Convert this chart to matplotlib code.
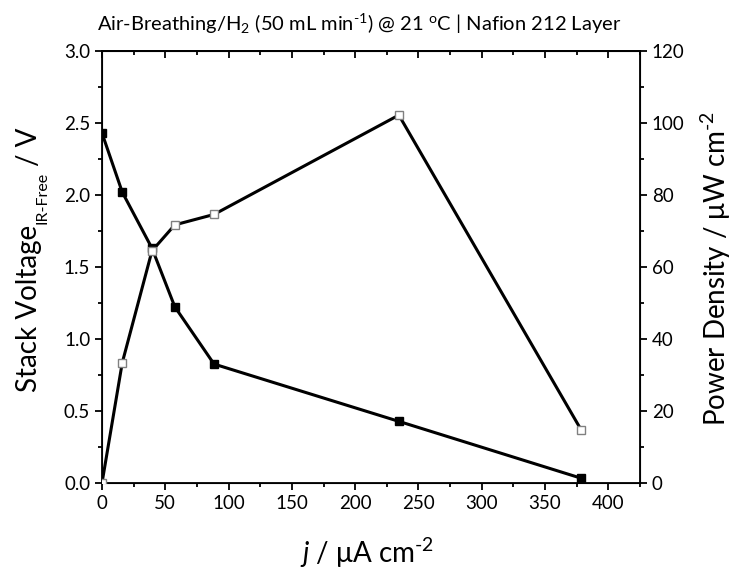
import matplotlib
matplotlib.use("Agg")
import matplotlib.pyplot as plt
from matplotlib.ticker import MultipleLocator

plt.rcParams["font.family"] = ["Lato", "DejaVu Sans"]
plt.rcParams["mathtext.fontset"] = "custom"
plt.rcParams["mathtext.rm"] = "Lato"
plt.rcParams["mathtext.it"] = "Lato:italic"

# current density (uA cm-2)
j = [0, 16, 39.5, 57.5, 88.5, 234.5, 378.6]
# stack voltage (V)
voltage = [2.43, 2.02, 1.63, 1.224, 0.826, 0.428, 0.033]
# power density (uW cm-2)
power = [0.0, 33.4, 64.5, 71.7, 74.6, 102.2, 14.7]

W, H = 733, 572
fig = plt.figure(figsize=(W / 100, H / 100), dpi=100)
ax = fig.add_axes([102 / W, 1 - 483 / H, 538 / W, 432 / H])

ax.plot(j, voltage, color="black", lw=2.2, marker="s", ms=6,
        mfc="black", mec="black", zorder=3)
ax.set_xlim(0, 425)
ax.set_ylim(0, 3.0)
ax.xaxis.set_major_locator(MultipleLocator(50))
ax.xaxis.set_minor_locator(MultipleLocator(25))
ax.yaxis.set_major_locator(MultipleLocator(0.5))
ax.yaxis.set_minor_locator(MultipleLocator(0.25))
ax.yaxis.set_major_formatter(plt.FormatStrFormatter("%.1f"))
ax.tick_params(axis="both", which="major", direction="out", length=5, width=1.3,
               labelsize=13.5)
ax.tick_params(axis="both", which="minor", direction="out", length=3, width=1.3)
for s in ax.spines.values():
    s.set_linewidth(1.3)

# top axis: ticks only, pointing inward
top = ax.secondary_xaxis("top")
top.xaxis.set_major_locator(MultipleLocator(50))
top.xaxis.set_minor_locator(MultipleLocator(25))
top.tick_params(which="major", direction="in", length=5, width=1.3, labeltop=False)
top.tick_params(which="minor", direction="in", length=3, width=1.3)
top.spines["top"].set_linewidth(1.3)

ax.set_xlabel("$j$ / μA cm$^{\\text{-}2}$", fontsize=20)
ax.xaxis.label.set_va("baseline")
ax.xaxis.set_label_coords((367 - 102) / 538, (483 - 563) / 432)

ax2 = ax.twinx()
ax2.plot(j, power, color="black", lw=2.2, marker="s", ms=6,
         mfc="white", mec="#808080", mew=1.0, zorder=3)
ax2.set_ylim(0, 120)
ax2.yaxis.set_major_locator(MultipleLocator(20))
ax2.yaxis.set_minor_locator(MultipleLocator(10))
ax2.tick_params(axis="y", which="major", direction="out", length=5, width=1.3,
                labelsize=13.5)
ax2.tick_params(axis="y", which="minor", direction="out", length=3, width=1.3)
ax2.set_ylabel("Power Density / μW cm$^{\\text{-}2}$", fontsize=20)
ax2.yaxis.set_label_coords((699 - 102) / 538, (483 - 268) / 432)

# left label built from pieces so the subscript is small like the original
renderer = fig.canvas.get_renderer()
base_x = 37 / W
sub_x = 46 / W
y0 = 392
t1 = fig.text(base_x, 1 - y0 / H, "Stack Voltage", fontsize=20, rotation=90,
              rotation_mode="anchor", ha="left", va="baseline")
y0 -= t1.get_window_extent(renderer).height + 1
t2 = fig.text(sub_x, 1 - y0 / H, "IR-Free", fontsize=11.5, rotation=90,
              rotation_mode="anchor", ha="left", va="baseline")
y0 -= t2.get_window_extent(renderer).height + 6
fig.text(base_x, 1 - y0 / H, "/ V", fontsize=20, rotation=90,
         rotation_mode="anchor", ha="left", va="baseline")

fig.text(97 / W, 1 - 31 / H,
         "Air-Breathing/H$_2$ (50 mL min$^{\\text{-}1}$) @ 21 $^{\\rm o}$C | Nafion 212 Layer",
         fontsize=14.5, ha="left", va="baseline")

fig.savefig("out.png", dpi=100)
